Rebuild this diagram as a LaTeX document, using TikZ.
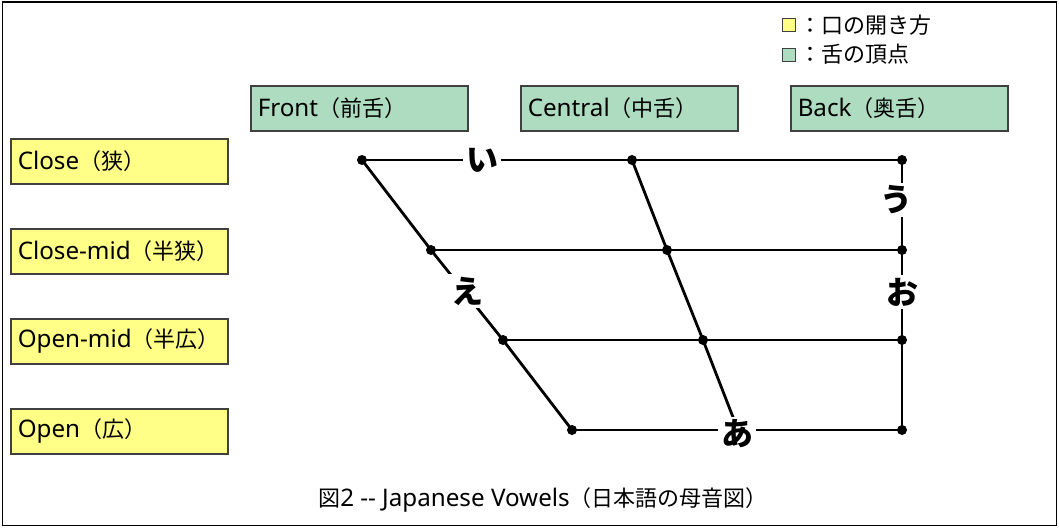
\documentclass[tikz,border=0pt]{standalone}
\usepackage{fontspec}
\setmainfont{Noto Sans}[Scale=1.1]
\newfontfamily\jp{Noto Sans CJK JP}
\definecolor{ybox}{HTML}{FFFF88}
\definecolor{gbox}{HTML}{AEDCC0}
\definecolor{boxline}{HTML}{404040}
\newcommand{\cj}[1]{{\fontsize{22}{24}\selectfont\jp #1}}
\begin{document}
\begin{tikzpicture}[x=1pt,y=-1pt,
  lbl/.style={draw=boxline, line width=1.5pt, minimum width=217pt, minimum height=45pt,
    anchor=north west, inner xsep=7pt, inner ysep=0pt, text width=203pt, align=left,
    font=\fontsize{22}{24}\selectfont},
  ylbl/.style={lbl, fill=ybox},
  glbl/.style={lbl, fill=gbox},
  pt/.style={circle, fill=black, inner sep=0pt, minimum size=10pt},
  grid/.style={line width=2.8pt},
  vowel/.style={fill=white, inner sep=3pt, font=\fontsize{32}{34}\selectfont\jp\bfseries},
  legsq/.style={draw=boxline, line width=1.5pt, minimum size=13pt, inner sep=0pt},
  legtxt/.style={anchor=west, inner sep=0pt, font=\fontsize{22}{24}\selectfont\jp},
]
\useasboundingbox (0,0) rectangle (1059,527);
\node[draw=black, line width=1.2pt, minimum width=1054pt, minimum height=523pt, anchor=north west, inner sep=0pt] (frame) at (1.5,1.5) {};

% legend
\node[legsq, fill=ybox] (lsy) at (789,25) {};
\node[legsq, fill=gbox] (lsg) at (789,55) {};
\node[legtxt] (lty) at (799,25) {：口の開き方};
\node[legtxt] (ltg) at (799,54) {：舌の頂点};

% tongue boxes
\node[glbl] (front) at (250,85) {Front\cj{（前舌）}};
\node[glbl] (central) at (520,85) {Central\cj{（中舌）}};
\node[glbl] (back) at (790,85) {Back\cj{（奥舌）}};

% mouth boxes
\node[ylbl] (close) at (10,138) {Close\cj{（狭）}};
\node[ylbl] (closemid) at (10,228) {Close-mid\cj{（半狭）}};
\node[ylbl] (openmid) at (10,318) {Open-mid\cj{（半広）}};
\node[ylbl] (open) at (10,408) {Open\cj{（広）}};

% grid points
\node[pt] (a1) at (362,160) {};
\node[pt] (b1) at (632,160) {};
\node[pt] (c1) at (902,160) {};
\node[pt] (a2) at (431,250) {};
\node[pt] (b2) at (667,250) {};
\node[pt] (c2) at (902,250) {};
\node[pt] (a3) at (503,340) {};
\node[pt] (b3) at (703,340) {};
\node[pt] (c3) at (902,340) {};
\node[pt] (a4) at (572,430) {};
\coordinate (b4) at (738,430);
\node[pt] (c4) at (902,430) {};

% lines
\draw[grid] (a1.center) -- (b1.center) -- (c1.center);
\draw[grid] (a2.center) -- (b2.center) -- (c2.center);
\draw[grid] (a3.center) -- (b3.center) -- (c3.center);
\draw[grid] (a4.center) -- (b4) -- (c4.center);
\draw[grid] (a1.center) -- (a2.center) -- (a3.center) -- (a4.center);
\draw[grid] (b1.center) -- (b2.center) -- (b3.center) -- (b4);
\draw[grid] (c1.center) -- (c2.center) -- (c3.center) -- (c4.center);

% vowels
\node[vowel] (vi) at (482,160) {い};
\node[vowel] (vu) at (896,200) {う};
\node[vowel] (ve) at (467,291) {え};
\node[vowel] (vo) at (902,292) {お};
\node[vowel] (va) at (737,434) {あ};

% caption
\node[font=\fontsize{22}{24}\selectfont, inner sep=0pt] (cap) at (543,500) {\cj{図}2 -{}- Japanese Vowels\cj{（日本語の母音図）}};
\end{tikzpicture}
\end{document}
